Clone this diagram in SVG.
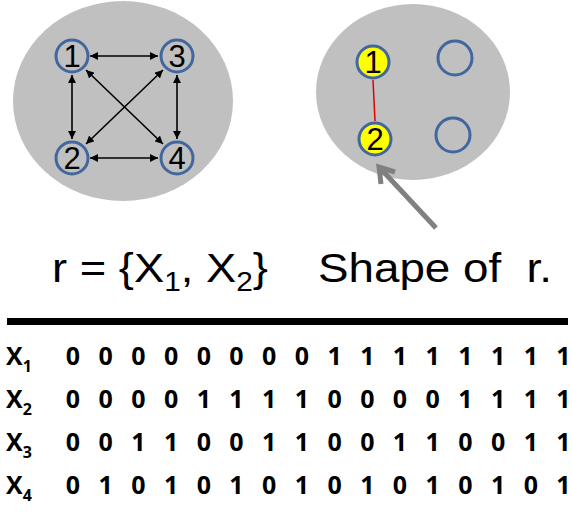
<svg xmlns="http://www.w3.org/2000/svg" width="572" height="512" viewBox="0 0 572 512">
<style>
.bg{fill:#c0c0c0;stroke:none}
.node{fill:none;stroke:#41679e;stroke-width:3}
.ynode{fill:#ffff00;stroke:#41679e;stroke-width:3}
.num{font-family:"Liberation Sans",Arial,sans-serif;font-size:31px;fill:#000;text-anchor:middle}
.edge{stroke:#000;stroke-width:1.6;fill:none;marker-start:url(#ah);marker-end:url(#ah)}
.big{font-family:"Liberation Sans",Arial,sans-serif;font-size:41px;fill:#000;white-space:pre}
.tb{font-family:"Open Sans","Liberation Sans",sans-serif;font-weight:bold;font-size:25px;fill:#000}
.dg{text-anchor:middle}
</style>
<defs>
<marker id="ah" viewBox="0 0 10 10" refX="10" refY="5" markerWidth="8" markerHeight="8" orient="auto-start-reverse" markerUnits="userSpaceOnUse">
<path d="M0,0 L10,5 L0,10 Z" fill="#000"/>
</marker>
</defs>
<g id="backgrounds">
<ellipse class="bg" cx="123" cy="101" rx="110" ry="100"/>
<ellipse class="bg" cx="413" cy="92" rx="97" ry="88"/>
</g>
<g id="connectors">
<line class="edge" x1="90" y1="56" x2="158" y2="56"/>
<line class="edge" x1="90" y1="158" x2="158" y2="158"/>
<line class="edge" x1="72" y1="75" x2="72" y2="139"/>
<line class="edge" x1="177" y1="75" x2="177" y2="139"/>
<line class="edge" x1="86" y1="70" x2="163" y2="144"/>
<line class="edge" x1="163" y1="70" x2="86" y2="144"/>
<line x1="373" y1="80" x2="375" y2="121" stroke="#e00000" stroke-width="1.5"/>
<g id="pointer" stroke="#808080" stroke-width="5" fill="none" stroke-linecap="butt" stroke-linejoin="miter">
<line x1="436" y1="228" x2="380" y2="168"/>
<polyline points="381,184 379,167 395,172"/>
</g>
</g>
<g id="n1"><circle class="node" cx="72" cy="56" r="16"/><text class="num" x="72" y="67">1</text></g>
<g id="n3"><circle class="node" cx="177" cy="56" r="16"/><text class="num" x="177" y="67">3</text></g>
<g id="n2"><circle class="node" cx="72" cy="158" r="16"/><text class="num" x="72" y="169">2</text></g>
<g id="n4"><circle class="node" cx="177" cy="158" r="16"/><text class="num" x="177" y="169">4</text></g>
<g id="r1"><circle class="ynode" cx="373" cy="62" r="16"/><text class="num" x="373" y="73">1</text></g>
<g id="r2"><circle class="ynode" cx="375" cy="139" r="16"/><text class="num" x="375" y="150">2</text></g>
<g id="r3"><circle class="node" cx="455" cy="58" r="17"/></g>
<g id="r4"><circle class="node" cx="453" cy="135" r="17"/></g>
<g id="captions">
<text class="big" x="52" y="282" textLength="216" lengthAdjust="spacingAndGlyphs">r = {X<tspan font-size="27" dy="9">1</tspan><tspan dy="-9">, X</tspan><tspan font-size="27" dy="9">2</tspan><tspan dy="-9">}</tspan></text>
<text class="big" x="318" y="282" textLength="234" lengthAdjust="spacingAndGlyphs" xml:space="preserve">Shape of  r.</text>
</g>
<rect x="7" y="318" width="561" height="7" fill="#000"/>
<g id="table" class="tb">
<text x="6" y="365">X<tspan font-size="16" dy="7">1</tspan></text>
<text x="6" y="408">X<tspan font-size="16" dy="7">2</tspan></text>
<text x="6" y="451">X<tspan font-size="16" dy="7">3</tspan></text>
<text x="6" y="494">X<tspan font-size="16" dy="7">4</tspan></text>
<text class="dg" y="365"><tspan x="73">0</tspan><tspan x="105.7">0</tspan><tspan x="138.4">0</tspan><tspan x="171.1">0</tspan><tspan x="203.8">0</tspan><tspan x="236.5">0</tspan><tspan x="269.2">0</tspan><tspan x="301.9">0</tspan><tspan x="334.6">1</tspan><tspan x="367.3">1</tspan><tspan x="400">1</tspan><tspan x="432.7">1</tspan><tspan x="465.4">1</tspan><tspan x="498.1">1</tspan><tspan x="530.8">1</tspan><tspan x="563.5">1</tspan></text>
<text class="dg" y="408"><tspan x="73">0</tspan><tspan x="105.7">0</tspan><tspan x="138.4">0</tspan><tspan x="171.1">0</tspan><tspan x="203.8">1</tspan><tspan x="236.5">1</tspan><tspan x="269.2">1</tspan><tspan x="301.9">1</tspan><tspan x="334.6">0</tspan><tspan x="367.3">0</tspan><tspan x="400">0</tspan><tspan x="432.7">0</tspan><tspan x="465.4">1</tspan><tspan x="498.1">1</tspan><tspan x="530.8">1</tspan><tspan x="563.5">1</tspan></text>
<text class="dg" y="451"><tspan x="73">0</tspan><tspan x="105.7">0</tspan><tspan x="138.4">1</tspan><tspan x="171.1">1</tspan><tspan x="203.8">0</tspan><tspan x="236.5">0</tspan><tspan x="269.2">1</tspan><tspan x="301.9">1</tspan><tspan x="334.6">0</tspan><tspan x="367.3">0</tspan><tspan x="400">1</tspan><tspan x="432.7">1</tspan><tspan x="465.4">0</tspan><tspan x="498.1">0</tspan><tspan x="530.8">1</tspan><tspan x="563.5">1</tspan></text>
<text class="dg" y="494"><tspan x="73">0</tspan><tspan x="105.7">1</tspan><tspan x="138.4">0</tspan><tspan x="171.1">1</tspan><tspan x="203.8">0</tspan><tspan x="236.5">1</tspan><tspan x="269.2">0</tspan><tspan x="301.9">1</tspan><tspan x="334.6">0</tspan><tspan x="367.3">1</tspan><tspan x="400">0</tspan><tspan x="432.7">1</tspan><tspan x="465.4">0</tspan><tspan x="498.1">1</tspan><tspan x="530.8">0</tspan><tspan x="563.5">1</tspan></text>
</g>
</svg>
